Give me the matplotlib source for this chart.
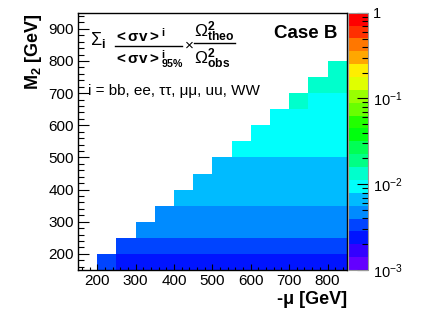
import colorsys
import numpy as np
import matplotlib
matplotlib.use("Agg")
import matplotlib.pyplot as plt
from matplotlib.colors import ListedColormap, LogNorm
from matplotlib.lines import Line2D
from matplotlib.ticker import MultipleLocator, LogLocator, NullFormatter

plt.rcParams['font.family'] = ['Liberation Sans', 'DejaVu Sans']
plt.rcParams['mathtext.fontset'] = 'custom'
plt.rcParams['mathtext.rm'] = 'Liberation Sans'
plt.rcParams['mathtext.it'] = 'Liberation Sans:italic'
plt.rcParams['mathtext.bf'] = 'Liberation Sans:bold'

# ---------------- data ----------------
mu_edges = [150, 200, 250, 300, 350, 400, 450, 500, 550, 600, 650, 700, 750, 800, 850]
m2_edges = [150, 200, 250, 300, 350, 400, 450, 500, 550, 600, 650, 700, 750, 800,
            850, 900, 950]

# ratio values per M2 row (row lower edge), right-aligned up to -mu = 800-850
ratio_m2_150 = [0.0033, 0.0024, 0.0024, 0.0024, 0.0024, 0.0024, 0.0024, 0.0024,
                0.0024, 0.0024, 0.0024, 0.0024, 0.0024]
ratio_m2_200 = [0.0034, 0.0034, 0.0034, 0.0034, 0.0034, 0.0034, 0.0034, 0.0034,
                0.0034, 0.0034, 0.0034, 0.0034]
ratio_m2_250 = [0.0047, 0.0047, 0.0047, 0.0047, 0.0047, 0.0047, 0.0047, 0.0047,
                0.0047, 0.0047, 0.0047]
ratio_m2_300 = [0.0047, 0.0047, 0.0047, 0.0047, 0.0047, 0.0047, 0.0047, 0.0047,
                0.0047, 0.0047]
ratio_m2_350 = [0.0066, 0.0066, 0.0066, 0.0066, 0.0066, 0.0066, 0.0066, 0.0066,
                0.0066]
ratio_m2_400 = [0.0066, 0.0066, 0.0066, 0.0066, 0.0066, 0.0066, 0.0066, 0.0066]
ratio_m2_450 = [0.0066, 0.0066, 0.0066, 0.0066, 0.0066, 0.0066, 0.0066]
ratio_m2_500 = [0.0095, 0.0095, 0.0095, 0.0095, 0.0095, 0.0095]
ratio_m2_550 = [0.0095, 0.0095, 0.0095, 0.0095, 0.0095]
ratio_m2_600 = [0.0095, 0.0095, 0.0095, 0.0095]
ratio_m2_650 = [0.0125, 0.0095, 0.0095]
ratio_m2_700 = [0.0125, 0.0125]
ratio_m2_750 = [0.0125]

ratio_rows = [ratio_m2_150, ratio_m2_200, ratio_m2_250, ratio_m2_300, ratio_m2_350,
              ratio_m2_400, ratio_m2_450, ratio_m2_500, ratio_m2_550, ratio_m2_600,
              ratio_m2_650, ratio_m2_700, ratio_m2_750]

cbar_ticks = [1e-3, 1e-2, 1e-1, 1]
cbar_labels = [r'$\mathregular{10^{-3}}$', r'$\mathregular{10^{-2}}$',
               r'$\mathregular{10^{-1}}$', '1']

# ---------------- build grid ----------------
nx = len(mu_edges) - 1
ny = len(m2_edges) - 1
Z = np.full((ny, nx), np.nan)
for i, vals in enumerate(ratio_rows):
    Z[i, nx - len(vals):] = vals
Z = np.ma.masked_invalid(Z)

# ROOT "pretty" palette with 20 contour levels
ncont = 20
cols = []
for k in range(ncont):
    idx = int((k + 0.99) * 50 / ncont)
    if idx >= 49:
        cols.append((1.0, 0.0, 0.0))
    else:
        hue = 280 - (idx + 1) * 280 / 50
        cols.append(colorsys.hls_to_rgb(hue / 360.0, 0.5, 1.0))
cmap = ListedColormap(cols)
norm = LogNorm(vmin=1e-3, vmax=1)

W, H = 433, 314
fig = plt.figure(figsize=(W / 100, H / 100), dpi=100)

def fx(px):
    return px / W

def fy(py):
    return 1 - py / H

ax = fig.add_axes([fx(78), fy(270), fx(346.7) - fx(78), fy(12.7) - fy(270)])
mesh = ax.pcolormesh(mu_edges, m2_edges, Z, cmap=cmap, norm=norm)
ax.set_xlim(150, 850)
ax.set_ylim(150, 950)
ax.xaxis.set_major_locator(MultipleLocator(100))
ax.xaxis.set_minor_locator(MultipleLocator(20))
ax.yaxis.set_major_locator(MultipleLocator(100))
ax.yaxis.set_minor_locator(MultipleLocator(20))
ax.tick_params(axis='x', which='major', direction='in', length=4, width=0.8,
               labelsize=11, pad=3)
ax.tick_params(axis='x', which='minor', direction='in', length=2.2, width=0.8)
ax.tick_params(axis='y', which='major', direction='in', length=8, width=0.8,
               labelsize=11, pad=3)
ax.tick_params(axis='y', which='minor', direction='in', length=4.5, width=0.8)
ax.set_xticks([200, 300, 400, 500, 600, 700, 800])
for s in ax.spines.values():
    s.set_linewidth(1.0)

fig.text(fx(346.7), fy(300), '-μ [GeV]', fontsize=13, fontweight='bold',
         ha='right', va='center')
fig.text(fx(33), fy(13), r'$\mathbf{M_{2}}$ [GeV]', fontsize=13, fontweight='bold',
         rotation=90, ha='center', va='top')

# colorbar
cax = fig.add_axes([fx(348.3), fy(270), fx(367.7) - fx(348.3), fy(12.7) - fy(270)])
cb = fig.colorbar(mesh, cax=cax)
cb.outline.set_edgecolor('#999999')
cb.outline.set_linewidth(0.8)
cb.set_ticks(cbar_ticks, labels=cbar_labels)
cax.yaxis.set_minor_locator(LogLocator(base=10, subs=np.arange(2, 10)))
cax.yaxis.set_minor_formatter(NullFormatter())
cax.tick_params(which='major', direction='in', length=8, width=0.8, labelsize=10.5,
                pad=4, right=True, left=False)
cax.tick_params(which='minor', direction='in', length=4.5, width=0.8, right=True,
                left=False)

# annotations
fig.text(fx(337.7), fy(33), 'Case B', fontsize=13.5, fontweight='bold',
         ha='right', va='center')
fig.text(fx(90), fy(45), r'$\Sigma_{\mathbf{i}}$', fontsize=13, ha='left',
         va='baseline')
fig.text(fx(114), fy(41.7), r'$\mathbf{<σv>^{i}}$', fontsize=11, ha='left',
         va='baseline')
fig.text(fx(114), fy(63.3), r'$\mathbf{<σv>^{i}_{95\%}}$', fontsize=11, ha='left',
         va='baseline')
fig.add_artist(Line2D([fx(115), fx(182)], [fy(45.5), fy(45.5)],
                      transform=fig.transFigure, color='k', lw=1.0))
fig.text(fx(189), fy(46), '×', fontsize=11, ha='center', va='center')
fig.text(fx(194), fy(37.3), r'$\Omega^{\mathbf{2}}_{\mathbf{theo}}$', fontsize=12.5,
         ha='left', va='baseline')
fig.text(fx(194), fy(64), r'$\Omega^{\mathbf{2}}_{\mathbf{obs}}$', fontsize=12.5,
         ha='left', va='baseline')
fig.add_artist(Line2D([fx(194), fx(235)], [fy(43), fy(43)],
                      transform=fig.transFigure, color='k', lw=1.0))
fig.text(fx(88), fy(91), 'i = bb, ee, ττ, μμ, uu, WW', fontsize=11, ha='left',
         va='center')

fig.savefig('out.png', dpi=100)
